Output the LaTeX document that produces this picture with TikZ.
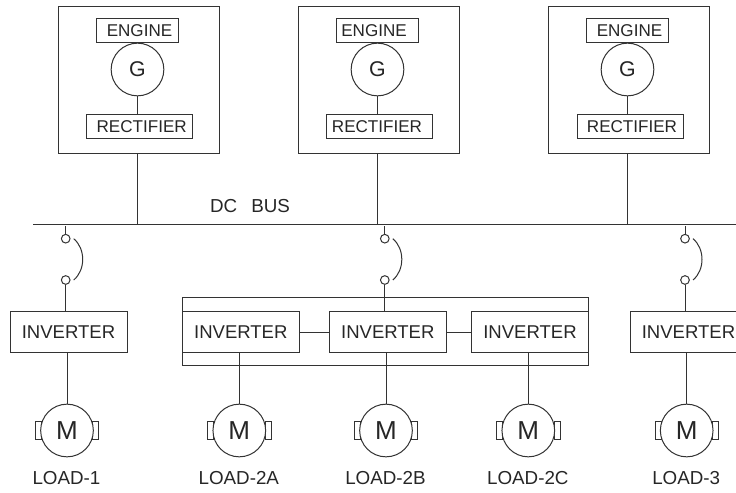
\documentclass[tikz,border=0pt]{standalone}
\usepackage{fontspec}
\setmainfont{Liberation Sans}
\usetikzlibrary{calc, positioning}

\tikzset{
  wire/.style={line width=0.75pt, draw=black!80},
  block/.style={wire, rectangle, inner sep=0pt, text=black!85},
  genbox/.style={wire, rectangle, minimum width=120.75pt, minimum height=110.25pt, inner sep=0pt},
  enginebox/.style={block, font=\fontsize{12.8}{15}\selectfont, minimum width=62pt, minimum height=18pt},
  rectbox/.style={block, font=\fontsize{12.8}{15}\selectfont, minimum width=79.5pt, minimum height=17.5pt},
  invbox/.style={block, font=\fontsize{13.9}{16}\selectfont, minimum width=87.75pt, minimum height=31pt},
  machine/.style={wire, circle, fill=white, minimum size=39.5pt, inner sep=0pt, text=black!85},
  contact/.style={wire, circle, minimum size=6.5pt, inner sep=0pt},
  brush/.style={wire, rectangle, minimum width=4.5pt, minimum height=13.2pt, inner sep=0pt},
  loadname/.style={font=\fontsize{14.1}{16}\selectfont, text=black!85},
}

% name, box x, engine x, rectifier x, generator x, text shifts
\newcommand{\genset}[7]{
  \node[genbox] (gen#1) at (#2,-79.5) {};
  \node[enginebox] (eng#1) at (#3,-30.5) {\hspace*{#6}ENGINE};
  \node[rectbox] (rec#1) at (#4,-126.5) {\hspace*{#7}RECTIFIER};
  \node[machine, font=\fontsize{16}{18}\selectfont] (g#1) at (#5,-69.5) {G};
  \draw[wire] (g#1) -- (g#1 |- rec#1.north);
  \coordinate (tap#1) at (#5,-224);
  \coordinate (top#1) at (#5,-153);
  \draw[wire] (top#1) -- (tap#1);
}

\newcommand{\breaker}[2]{
  \node[contact] (up#1) at (#2,-238.7) {};
  \node[contact] (dn#1) at (#2,-280) {};
  \coordinate (bt#1) at (#2,-226);
  \draw[wire] (bt#1) -- (up#1);
  \draw[wire] ($(up#1)+(8,0)$) .. controls ($(up#1)+(20,-10)$) and ($(dn#1)+(20,10)$) .. ($(dn#1)+(8,0)$);
}

\newcommand{\motor}[3]{
  \node[brush] (bl#1) at (#2-28.7,-430.5) {};
  \node[brush] (br#1) at (#2+28.7,-430.5) {};
  \node[machine, font=\fontsize{19.5}{21}\selectfont] (m#1) at (#2,-430.5) {M};
  \node[loadname] (name#1) at (#2-0.5,-478) {#3};
}

\begin{document}
\begin{tikzpicture}[x=0.75pt, y=0.75pt]
\useasboundingbox (0,0) rectangle (736,-493);

% dc bus
\coordinate (busl) at (33,-224);
\coordinate (busr) at (736,-224);
\draw[wire] (busl) -- (busr);
\node[loadname] (buslabel) at (250,-206) {DC\hspace{0.75em}BUS};

% generator sets
\genset{a}{138.5}{137.5}{139}{137.5}{3pt}{4pt}
\genset{b}{378.5}{377.5}{379.5}{377.5}{-5.2pt}{-3.8pt}
\genset{c}{629}{627.5}{630}{627.5}{3pt}{3pt}

% breakers
\breaker{a}{65.7}
\breaker{b}{384.8}
\breaker{c}{685}

% group of inverters
\node[wire, rectangle, minimum width=304.8pt, minimum height=50.5pt, inner sep=0pt] (group) at (385.5,-331.6) {};

\node[invbox] (inva) at (68.5,-332) {INVERTER};
\node[invbox] (invb) at (240.8,-332) {INVERTER};
\node[invbox] (invc) at (387.8,-332) {INVERTER};
\node[invbox] (invd) at (530,-332) {INVERTER};
\node[invbox] (inve) at (688.5,-332) {INVERTER};

\draw[wire] (invb) -- (invc);
\draw[wire] (invc) -- (invd);

\draw[wire] (dna) -- (dna |- inva.north);
\draw[wire] (dnb) -- (dnb |- invc.north);
\draw[wire] (dnc) -- (dnc |- inve.north);

% motors
\motor{a}{67}{LOAD-1}
\motor{b}{239.3}{LOAD-2A}
\motor{c}{386}{LOAD-2B}
\motor{d}{528.3}{LOAD-2C}
\motor{e}{686.7}{LOAD-3}

\draw[wire] (ma |- inva.south) -- (ma);
\draw[wire] (mb |- invb.south) -- (mb);
\draw[wire] (mc |- invc.south) -- (mc);
\draw[wire] (md |- invd.south) -- (md);
\draw[wire] (me |- inve.south) -- (me);
\end{tikzpicture}
\end{document}
